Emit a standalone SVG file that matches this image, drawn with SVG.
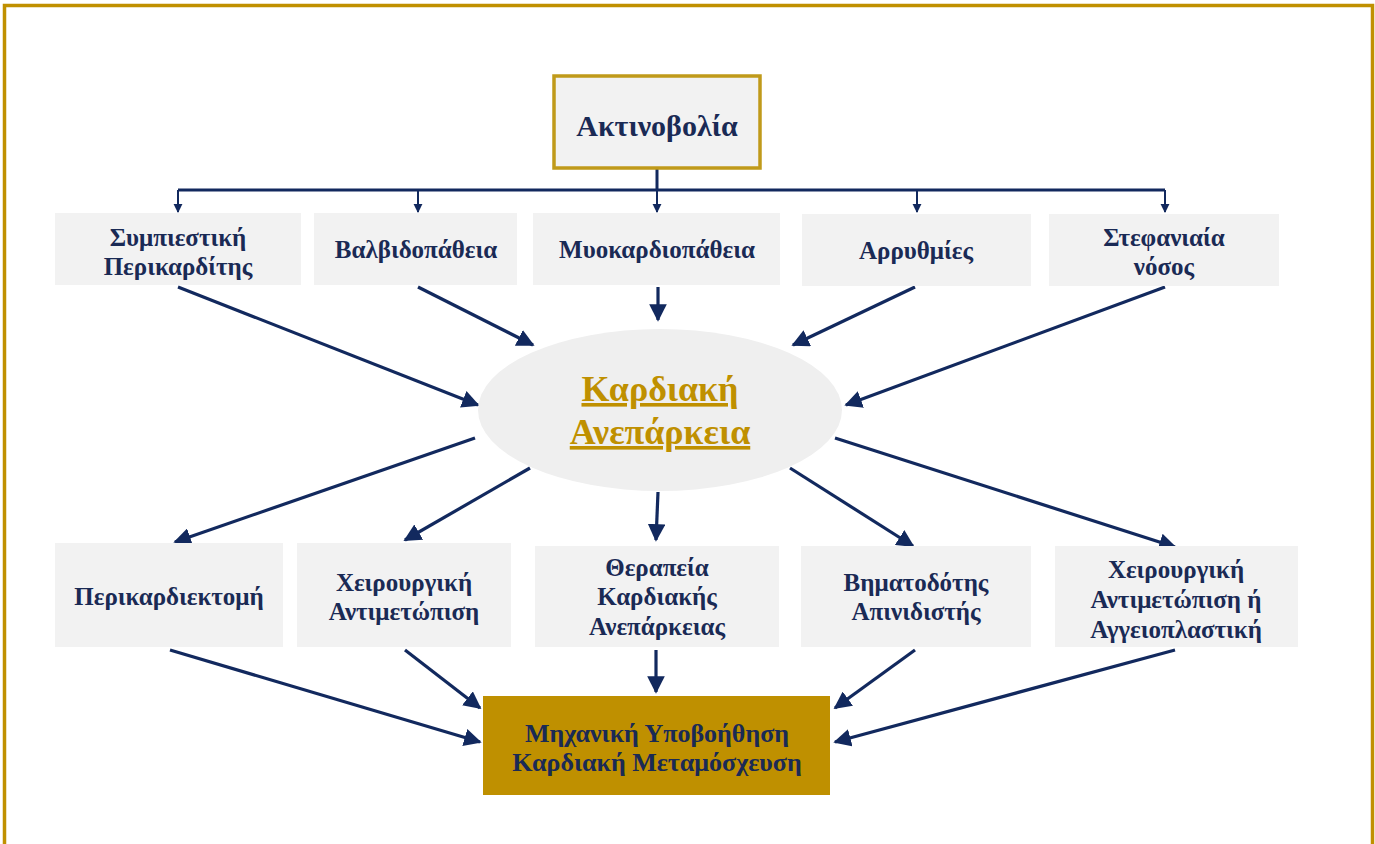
<svg xmlns="http://www.w3.org/2000/svg" width="1375" height="844" viewBox="0 0 1375 844">
<defs>
<style>
.box{fill:#f2f2f2;}
.t{font-family:"Liberation Serif","DejaVu Serif",serif;font-weight:bold;fill:#1a2a55;text-anchor:middle;font-size:25px;}
.e{font-family:"Liberation Serif","DejaVu Serif",serif;font-weight:bold;font-size:36px;fill:#bf9000;text-anchor:middle;text-decoration:underline;}
.c{stroke:#12295e;stroke-width:3;fill:none;}
.ca{stroke:#12295e;stroke-width:3.2;fill:none;marker-end:url(#ah);}
.cs{stroke:#12295e;stroke-width:2;fill:none;marker-end:url(#ahs);}
</style>
<marker id="ah" viewBox="0 0 10 10" refX="9" refY="5" markerWidth="5.5" markerHeight="5.5" orient="auto" markerUnits="strokeWidth">
<path d="M0,0 L10,5 L0,10 z" fill="#12295e"/>
</marker>
<marker id="ahs" viewBox="0 0 10 10" refX="9" refY="5" markerWidth="4.5" markerHeight="6" orient="auto" markerUnits="strokeWidth">
<path d="M0,0 L10,5 L0,10 z" fill="#12295e"/>
</marker>
</defs>
<rect x="4.5" y="5.5" width="1368" height="880" fill="#ffffff" stroke="#c09000" stroke-width="3.5"/>

<g id="connectors">
<line class="c" x1="657" y1="168" x2="657" y2="190"/>
<line class="c" x1="178" y1="190" x2="1165" y2="190"/>
<line class="cs" x1="178" y1="190" x2="178" y2="212"/>
<line class="cs" x1="418" y1="190" x2="418" y2="212"/>
<line class="cs" x1="657" y1="190" x2="657" y2="212"/>
<line class="cs" x1="917" y1="190" x2="917" y2="212"/>
<line class="cs" x1="1165" y1="190" x2="1165" y2="212"/>

<line class="ca" x1="178" y1="287" x2="478" y2="405"/>
<line class="ca" x1="418" y1="287" x2="533" y2="345"/>
<line class="ca" x1="658" y1="287" x2="658" y2="320"/>
<line class="ca" x1="915" y1="287" x2="793" y2="345"/>
<line class="ca" x1="1165" y1="287" x2="846" y2="405"/>

<line class="ca" x1="475" y1="438" x2="175" y2="542"/>
<line class="ca" x1="530" y1="468" x2="405" y2="540"/>
<line class="ca" x1="658" y1="492" x2="656" y2="540"/>
<line class="ca" x1="790" y1="468" x2="913" y2="546"/>
<line class="ca" x1="835" y1="438" x2="1175" y2="547"/>

<line class="ca" x1="170" y1="650" x2="480" y2="742"/>
<line class="ca" x1="405" y1="650" x2="480" y2="708"/>
<line class="ca" x1="656" y1="650" x2="656" y2="692"/>
<line class="ca" x1="915" y1="650" x2="835" y2="708"/>
<line class="ca" x1="1175" y1="650" x2="835" y2="742"/>
</g>

<g id="n-aktinovolia">
<rect x="554" y="76" width="206" height="92" fill="#f2f2f2" stroke="#c09a1a" stroke-width="3.5"/>
<text class="t" x="657" y="136" style="font-size:30px">Ακτινοβολία</text>
</g>

<g id="n-sympiestiki">
<rect class="box" x="55" y="213" width="246" height="72"/>
<text class="t" x="178" y="246">Συμπιεστική</text>
<text class="t" x="178" y="275">Περικαρδίτης</text>
</g>
<g id="n-valvidopatheia">
<rect class="box" x="314" y="213" width="203" height="72"/>
<text class="t" x="416" y="258">Βαλβιδοπάθεια</text>
</g>
<g id="n-myokardiopatheia">
<rect class="box" x="533" y="213" width="247" height="72"/>
<text class="t" x="657" y="258">Μυοκαρδιοπάθεια</text>
</g>
<g id="n-arrythmies">
<rect class="box" x="802" y="214" width="229" height="72"/>
<text class="t" x="916" y="259">Αρρυθμίες</text>
</g>
<g id="n-stefaniaia">
<rect class="box" x="1049" y="214" width="230" height="72"/>
<text class="t" x="1164" y="246">Στεφανιαία</text>
<text class="t" x="1164" y="275">νόσος</text>
</g>

<g id="n-kardiaki-aneparkeia">
<ellipse cx="660" cy="410" rx="182" ry="81" fill="#efefef"/>
<text class="e" x="660" y="401">Καρδιακή</text>
<text class="e" x="660" y="444">Ανεπάρκεια</text>
</g>

<g id="n-perikardiektomi">
<rect class="box" x="55" y="543" width="228" height="104"/>
<text class="t" x="169" y="605">Περικαρδιεκτομή</text>
</g>
<g id="n-xeirourgiki">
<rect class="box" x="297" y="543" width="214" height="104"/>
<text class="t" x="404" y="591">Χειρουργική</text>
<text class="t" x="404" y="620">Αντιμετώπιση</text>
</g>
<g id="n-therapeia">
<rect class="box" x="535" y="546" width="244" height="101"/>
<text class="t" x="657" y="576">Θεραπεία</text>
<text class="t" x="657" y="605">Καρδιακής</text>
<text class="t" x="657" y="635">Ανεπάρκειας</text>
</g>
<g id="n-vimatodotis">
<rect class="box" x="801" y="546" width="230" height="101"/>
<text class="t" x="916" y="591">Βηματοδότης</text>
<text class="t" x="916" y="620">Απινιδιστής</text>
</g>
<g id="n-xeirourgiki-aggeio">
<rect class="box" x="1055" y="546" width="243" height="101"/>
<text class="t" x="1176" y="578">Χειρουργική</text>
<text class="t" x="1176" y="608">Αντιμετώπιση ή</text>
<text class="t" x="1176" y="638">Αγγειοπλαστική</text>
</g>

<g id="n-mixaniki">
<rect x="483" y="696" width="347" height="99" fill="#bf9000"/>
<text class="t" x="657" y="742" style="font-size:26px">Μηχανική Υποβοήθηση</text>
<text class="t" x="657" y="771" style="font-size:26px">Καρδιακή Μεταμόσχευση</text>
</g>
</svg>
